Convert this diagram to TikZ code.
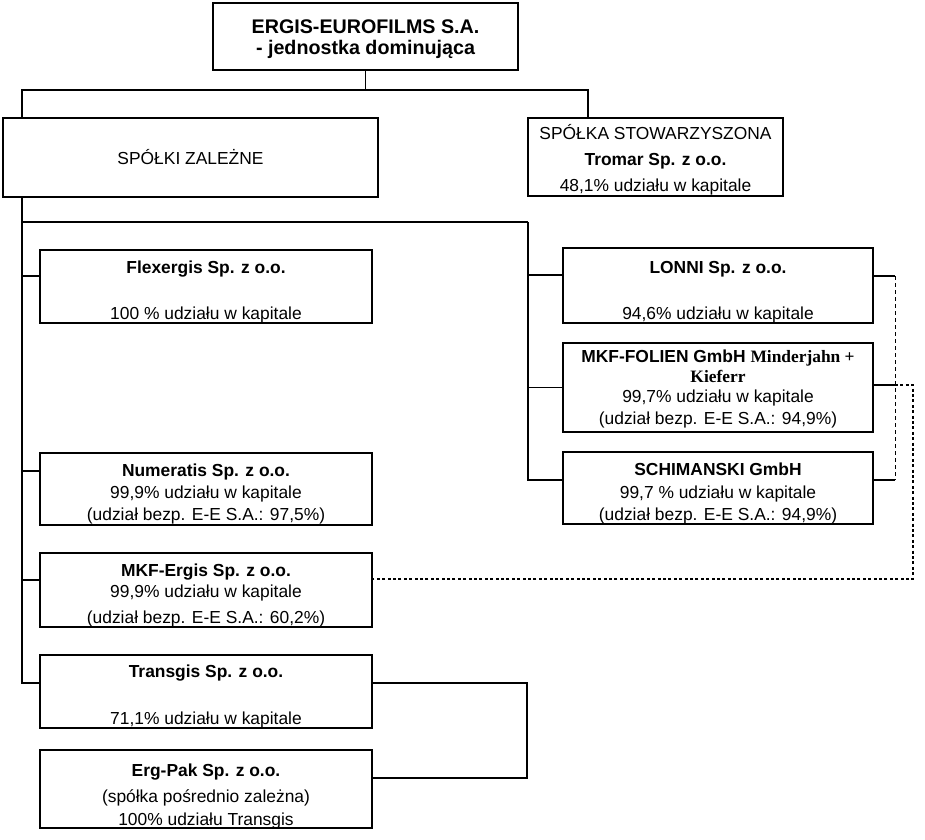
\documentclass[tikz,border=0pt]{standalone}
\usepackage{fontspec}
\setmainfont{Liberation Sans}
\newfontfamily\tms{Liberation Serif}
\begin{document}
\begin{tikzpicture}[x=1pt,y=-1pt,
  box/.style={draw,line width=2.3pt,inner sep=0pt},
  conn/.style={line width=1.6pt},
  thinconn/.style={line width=1.1pt},
  spine/.style={line width=1.9pt},
  tl/.style={anchor=base,inner sep=0pt,font=\fontsize{17.4}{20}\selectfont},
  tlb/.style={tl,font=\fontsize{17.4}{20}\selectfont\bfseries},
  tlt/.style={tl,font=\fontsize{19.7}{22}\selectfont\bfseries},
  dashln/.style={line width=1pt,dash pattern=on 4pt off 3pt},
  dotln/.style={line width=2pt,dash pattern=on 3pt off 2.4pt}]
\useasboundingbox (0,0) rectangle (925,839);
\fill[white] (0,0) rectangle (925,839);
% boxes
\node[box,minimum width=305pt,minimum height=67pt] (top) at (365.5,36.5) {};
\node[box,minimum width=375pt,minimum height=79pt] (zal) at (190.5,157.5) {};
\node[box,minimum width=255pt,minimum height=78pt] (tro) at (655.5,157) {};
\node[box,minimum width=332pt,minimum height=73pt] (flex) at (206,286.5) {};
\node[box,minimum width=332pt,minimum height=72pt] (num) at (206,489) {};
\node[box,minimum width=332pt,minimum height=74pt] (mkfe) at (206,590) {};
\node[box,minimum width=332pt,minimum height=73pt] (tran) at (206,691.5) {};
\node[box,minimum width=332pt,minimum height=78pt] (ergp) at (206,789) {};
\node[box,minimum width=310pt,minimum height=75pt] (lonni) at (718,285.5) {};
\node[box,minimum width=310pt,minimum height=89pt] (mkff) at (718,387.5) {};
\node[box,minimum width=310pt,minimum height=72pt] (schi) at (718,488) {};
% texts
\node[tlt] (t1) at (365.5,33) {ERGIS-EUROFILMS S.A.};
\node[tlt] (t2) at (365.5,54) {- jednostka dominująca};
\node[tl] (t3) at (190.5,164) {SPÓŁKI ZALEŻNE};
\node[tl] (t4) at (655.5,139) {SPÓŁKA STOWARZYSZONA};
\node[tlb] (t5) at (655.5,165) {Tromar Sp. z o.o.};
\node[tl] (t6) at (655.5,191) {48,1\% udziału w kapitale};
\node[tlb] (t7) at (206,273) {Flexergis Sp. z o.o.};
\node[tl] (t8) at (206,319) {100 \% udziału w kapitale};
\node[tlb] (t9) at (718,273) {LONNI Sp. z o.o.};
\node[tl] (t10) at (718,319) {94,6\% udziału w kapitale};
\node[tlb] (t11) at (718,362) {MKF-FOLIEN GmbH {\tms Minderjahn +}};
\node[tlb] (t12) at (718,382) {\tms Kieferr};
\node[tl] (t13) at (718,402) {99,7\% udziału w kapitale};
\node[tl] (t14) at (718,424) {(udział bezp. E-E S.A.: 94,9\%)};
\node[tlb] (t15) at (718,475) {SCHIMANSKI GmbH};
\node[tl] (t16) at (718,498) {99,7 \% udziału w kapitale};
\node[tl] (t17) at (718,520) {(udział bezp. E-E S.A.: 94,9\%)};
\node[tlb] (t18) at (206,476) {Numeratis Sp. z o.o.};
\node[tl] (t19) at (206,498) {99,9\% udziału w kapitale};
\node[tl] (t20) at (206,520) {(udział bezp. E-E S.A.: 97,5\%)};
\node[tlb] (t21) at (206,576) {MKF-Ergis Sp. z o.o.};
\node[tl] (t22) at (206,597) {99,9\% udziału w kapitale};
\node[tl] (t23) at (206,623) {(udział bezp. E-E S.A.: 60,2\%)};
\node[tlb] (t24) at (206,677) {Transgis Sp. z o.o.};
\node[tl] (t25) at (206,724) {71,1\% udziału w kapitale};
\node[tlb] (t26) at (206,776) {Erg-Pak Sp. z o.o.};
\node[tl] (t27) at (206,802) {(spółka pośrednio zależna)};
\node[tl] (t28) at (206,825) {100\% udziału Transgis};
% coordinates
\coordinate (h1) at (22,90);
\coordinate (h2) at (588,90);
\coordinate (s1) at (22,222);
\coordinate (s2) at (528,222);
\coordinate (sb) at (22,683);
\coordinate (rb) at (528,480);
\coordinate (tr) at (527,683);
\coordinate (er) at (527,778);
\coordinate (d1) at (895,276);
\coordinate (d2) at (895,480);
\coordinate (e1) at (895,385);
\coordinate (e2) at (913,385);
\coordinate (e3) at (913,579);
% connectors
\draw[spine] (top.south) -- (top.south |- h1);
\draw[conn] (h1 |- zal.north) -- (h1) -- (h2) -- (h2 |- tro.north);
\draw[spine] (h1 |- zal.south) -- (sb) -- (sb -| tran.west);
\draw[thinconn] (s1) -- (s2);
\draw[conn] (s2) -- (rb) -- (rb -| schi.west);
\draw[thinconn] (s1 |- flex.west) ++(0,-10.5) -- ++(18,0);
\draw[conn] (s1 |- num.west) ++(0,-18) -- ++(18,0);
\draw[conn] (22,580) -- (mkfe.west |- 0,580);
\draw[thinconn] (s2 |- 0,275) -- (lonni.west |- 0,275);
\draw[thinconn] (s2 |- mkff.west) -- (mkff.west);
\draw[conn] (tran.east |- tr) -- (tr) -- (er) -- (ergp.east |- er);
\draw[thinconn] (lonni.east |- d1) -- (d1);
\draw[dashln] (d1) -- (d2);
\draw[thinconn] (d2) -- (schi.east |- d2);
\draw[thinconn] (mkff.east |- e1) -- (e1);
\draw[dotln] (e1) -- (e2) -- (e3) -- (mkfe.east |- e3);
\end{tikzpicture}
\end{document}
